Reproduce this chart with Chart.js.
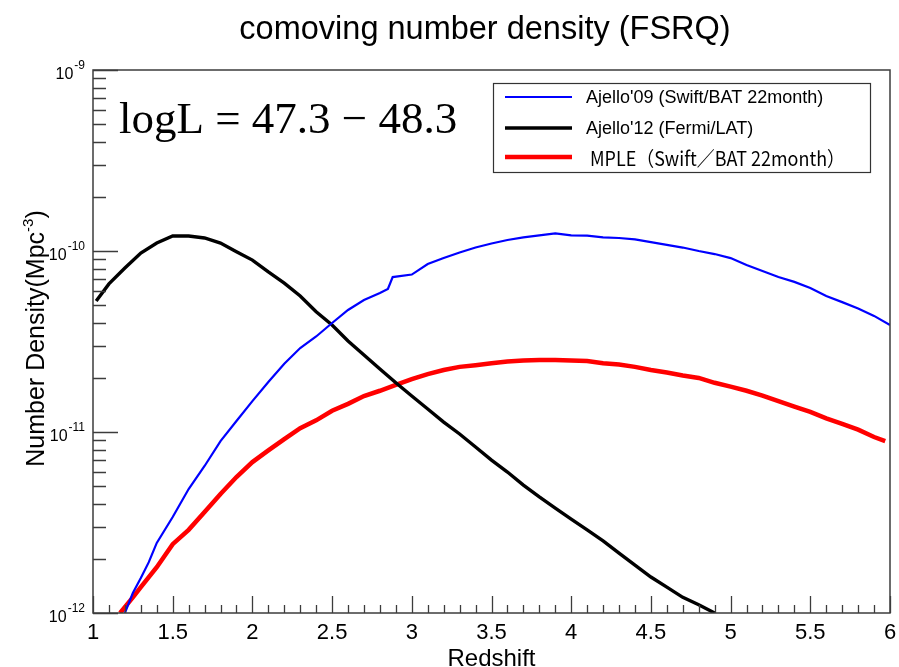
<!DOCTYPE html>
<html>
<head>
<meta charset="utf-8">
<script src="https://cdn.jsdelivr.net/npm/chart.js@4/dist/chart.umd.min.js"></script>
<style>
html, body { margin: 0; padding: 0; background: #fff; }
#chart { display: block; }
</style>
</head>
<body>
<canvas id="chart" width="899" height="667"></canvas>
<script>
// text
var titleText = 'comoving number density (FSRQ)';
var xTitle = 'Redshift';
var yTitle = 'Number Density(Mpc';
var yTitleSup = '-3';
var lumText = 'logL = 47.3 \u2212 48.3';

// axis ticks
var xMajor = [1, 1.5, 2, 2.5, 3, 3.5, 4, 4.5, 5, 5.5, 6];
var xLabels = ['1', '1.5', '2', '2.5', '3', '3.5', '4', '4.5', '5', '5.5', '6'];
var yDecades = [1e-12, 1e-11, 1e-10, 1e-9];
var yExponents = ['-12', '-11', '-10', '-9'];

// Ajello'09 (Swift/BAT 22month)
var zAjello09 = [1.2, 1.25, 1.3, 1.35, 1.4, 1.5, 1.6, 1.7, 1.8, 1.9, 2.0, 2.1, 2.2, 2.3, 2.4, 2.5, 2.6, 2.7, 2.8, 2.85, 2.88, 3.0,
    3.1, 3.2, 3.3, 3.4, 3.5, 3.6, 3.7, 3.8, 3.9, 4.0, 4.1, 4.2, 4.3, 4.4, 4.5, 4.6, 4.7, 4.8, 4.9, 5.0,
    5.1, 5.2, 5.3, 5.4, 5.5, 5.6, 5.7, 5.8, 5.9, 6.0];
var nAjello09 = [1.0e-12, 1.29e-12, 1.56e-12, 1.91e-12, 2.44e-12, 3.39e-12, 4.84e-12, 6.49e-12, 8.91e-12, 1.15e-11,
    1.48e-11, 1.89e-11, 2.38e-11, 2.91e-11, 3.37e-11, 4.00e-11, 4.72e-11, 5.36e-11, 5.86e-11, 6.17e-11, 7.18e-11, 7.41e-11,
    8.47e-11, 9.14e-11, 9.82e-11, 1.045e-10, 1.10e-10, 1.15e-10, 1.19e-10, 1.22e-10, 1.25e-10, 1.22e-10,
    1.215e-10, 1.19e-10, 1.18e-10, 1.16e-10, 1.12e-10, 1.08e-10, 1.045e-10, 1.00e-10, 9.62e-11, 9.14e-11,
    8.37e-11, 7.76e-11, 7.18e-11, 6.75e-11, 6.25e-11, 5.64e-11, 5.22e-11, 4.81e-11, 4.38e-11, 3.90e-11];

// Ajello'12 (Fermi/LAT)
var zAjello12 = [1.02, 1.1, 1.2, 1.3, 1.4, 1.5, 1.6, 1.7, 1.8, 1.9, 2.0, 2.1, 2.2, 2.3, 2.4, 2.5, 2.6, 2.7, 2.8, 2.9, 3.0,
    3.1, 3.2, 3.3, 3.4, 3.5, 3.6, 3.7, 3.8, 3.9, 4.0, 4.1, 4.2, 4.3, 4.4, 4.5, 4.6, 4.7, 4.8, 4.9];
var nAjello12 = [5.30e-11, 6.58e-11, 8.05e-11, 9.75e-11, 1.107e-10, 1.21e-10, 1.21e-10, 1.18e-10, 1.107e-10, 9.91e-11,
    8.91e-11, 7.66e-11, 6.65e-11, 5.64e-11, 4.62e-11, 3.90e-11, 3.18e-11, 2.66e-11, 2.23e-11, 1.87e-11, 1.58e-11,
    1.34e-11, 1.135e-11, 9.75e-12, 8.26e-12, 7.00e-12, 6.01e-12, 5.09e-12, 4.38e-12, 3.80e-12, 3.30e-12,
    2.88e-12, 2.50e-12, 2.14e-12, 1.84e-12, 1.58e-12, 1.39e-12, 1.22e-12, 1.11e-12, 1.0e-12];

// MPLE (Swift/BAT 22month)
var zMple = [1.17, 1.25, 1.3, 1.4, 1.5, 1.6, 1.7, 1.8, 1.9, 2.0, 2.1, 2.2, 2.3, 2.4, 2.5, 2.6, 2.7, 2.8, 2.9, 3.0,
    3.1, 3.2, 3.3, 3.4, 3.5, 3.6, 3.7, 3.8, 3.9, 4.0, 4.1, 4.2, 4.3, 4.4, 4.5, 4.6, 4.7, 4.8, 4.9, 5.0,
    5.1, 5.2, 5.3, 5.4, 5.5, 5.6, 5.7, 5.8, 5.9, 5.97];
var nMple = [1.0e-12, 1.22e-12, 1.39e-12, 1.79e-12, 2.40e-12, 2.88e-12, 3.61e-12, 4.54e-12, 5.64e-12, 6.82e-12,
    7.91e-12, 9.14e-12, 1.05e-11, 1.16e-11, 1.31e-11, 1.43e-11, 1.58e-11, 1.69e-11, 1.82e-11, 1.96e-11,
    2.09e-11, 2.20e-11, 2.29e-11, 2.34e-11, 2.40e-11, 2.45e-11, 2.48e-11, 2.50e-11, 2.50e-11, 2.48e-11,
    2.47e-11, 2.40e-11, 2.36e-11, 2.29e-11, 2.20e-11, 2.13e-11, 2.05e-11, 1.99e-11, 1.87e-11, 1.78e-11,
    1.69e-11, 1.59e-11, 1.48e-11, 1.38e-11, 1.29e-11, 1.19e-11, 1.11e-11, 1.03e-11, 9.38e-12, 8.91e-12];

var seriesLabels = ["Ajello'09 (Swift/BAT 22month)", "Ajello'12 (Fermi/LAT)", 'MPLE\uff08Swift\uff0fBAT 22month\uff09'];
var seriesColors = ['#0000ff', '#000000', '#ff0000'];
var seriesWidths = [2.2, 3.4, 4.5];

function toPoints(zs, ns) {
    var pts = [];
    for (var i = 0; i < zs.length; i++) {
        pts.push({x: zs[i], y: ns[i]});
    }
    return pts;
}

// ROOT-like frame, ticks, labels, titles and legend
var rootStyle = {
    id: 'rootStyle',
    afterDraw: function (chart) {
        var ctx = chart.ctx;
        var xs = chart.scales.x;
        var ys = chart.scales.y;
        var a = chart.chartArea;
        ctx.save();

        ctx.strokeStyle = '#3c3c3c';
        ctx.lineWidth = 1.5;
        ctx.strokeRect(a.left, a.top, a.right - a.left, a.bottom - a.top);

        // x ticks (pointing up into the frame)
        ctx.lineWidth = 1.3;
        ctx.beginPath();
        for (var t = 10; t <= 60; t++) {
            var px = Math.round(xs.getPixelForValue(t / 10)) + 0.5;
            var len = (t % 5 === 0) ? 17 : 8;
            ctx.moveTo(px, a.bottom);
            ctx.lineTo(px, a.bottom - len);
        }
        // y ticks (pointing right into the frame)
        for (var d = 0; d < yDecades.length; d++) {
            for (var m = 1; m <= 9; m++) {
                var v = yDecades[d] * m;
                if (v > ys.max * 1.0001) break;
                var py = Math.round(ys.getPixelForValue(v)) + 0.5;
                var l = (m === 1) ? 25 : 13;
                ctx.moveTo(a.left, py);
                ctx.lineTo(a.left + l, py);
            }
        }
        ctx.stroke();

        // x tick labels
        ctx.fillStyle = '#000';
        ctx.font = '22px "Liberation Sans", Arial, sans-serif';
        ctx.textAlign = 'center';
        ctx.textBaseline = 'middle';
        for (var i = 0; i < xMajor.length; i++) {
            ctx.fillText(xLabels[i], xs.getPixelForValue(xMajor[i]), a.bottom + 20);
        }

        // y tick labels: 10 with exponent
        for (var j = 0; j < yDecades.length; j++) {
            var yy = ys.getPixelForValue(yDecades[j]);
            ctx.font = '12px "Liberation Sans", Arial, sans-serif';
            var ew = ctx.measureText(yExponents[j]).width;
            ctx.textAlign = 'right';
            ctx.textBaseline = 'alphabetic';
            ctx.fillText(yExponents[j], a.left - 8, yy - 1);
            ctx.font = '16px "Liberation Sans", Arial, sans-serif';
            ctx.fillText('10', a.left - 9 - ew, yy + 9);
        }

        // x title
        ctx.font = '24px "Liberation Sans", Arial, sans-serif';
        ctx.textAlign = 'center';
        ctx.textBaseline = 'alphabetic';
        ctx.fillText(xTitle, (a.left + a.right) / 2, 666);

        // y title, rotated, with superscript
        ctx.save();
        ctx.translate(44, (a.top + a.bottom) / 2 - 3);
        ctx.rotate(-Math.PI / 2);
        ctx.font = '25px "Liberation Sans", Arial, sans-serif';
        var w1 = ctx.measureText(yTitle).width;
        var w3 = ctx.measureText(')').width;
        ctx.font = '15px "Liberation Sans", Arial, sans-serif';
        var w2 = ctx.measureText(yTitleSup).width;
        var x0 = -(w1 + w2 + w3) / 2;
        ctx.textAlign = 'left';
        ctx.font = '25px "Liberation Sans", Arial, sans-serif';
        ctx.fillText(yTitle, x0, 0);
        ctx.font = '15px "Liberation Sans", Arial, sans-serif';
        ctx.fillText(yTitleSup, x0 + w1, -11);
        ctx.font = '25px "Liberation Sans", Arial, sans-serif';
        ctx.fillText(')', x0 + w1 + w2, 0);
        ctx.restore();

        // main title
        ctx.font = '32.5px "Liberation Sans", Arial, sans-serif';
        ctx.textAlign = 'center';
        ctx.textBaseline = 'middle';
        ctx.fillText(titleText, 485, 30);

        // luminosity range text
        ctx.font = '45px "Liberation Serif", "DejaVu Serif", serif';
        ctx.textAlign = 'left';
        ctx.textBaseline = 'alphabetic';
        ctx.fillText(lumText, 119, 133);

        // legend box
        ctx.fillStyle = '#fff';
        ctx.fillRect(493, 83, 378, 90);
        ctx.strokeStyle = '#333';
        ctx.lineWidth = 1.2;
        ctx.strokeRect(493.5, 83.5, 377, 89);
        var rows = [97, 128, 157];
        for (var k = 0; k < seriesLabels.length; k++) {
            ctx.strokeStyle = seriesColors[k];
            ctx.lineWidth = seriesWidths[k];
            ctx.beginPath();
            ctx.moveTo(505, rows[k]);
            ctx.lineTo(572, rows[k]);
            ctx.stroke();
            ctx.fillStyle = '#000';
            ctx.textAlign = 'left';
            ctx.textBaseline = 'middle';
            if (k === 2) {
                ctx.font = '20px "Noto Sans CJK JP", "Liberation Sans", sans-serif';
                ctx.fillText(seriesLabels[k], 590, rows[k] + 1, 255);
            } else {
                ctx.font = '18px "Liberation Sans", Arial, sans-serif';
                ctx.fillText(seriesLabels[k], 586, rows[k] + 1, 246);
            }
        }
        ctx.restore();
    }
};

var ctx = document.getElementById('chart').getContext('2d');
var chart = new Chart(ctx, {
    type: 'line',
    data: {
        datasets: [
            {label: seriesLabels[0], data: toPoints(zAjello09, nAjello09), borderColor: seriesColors[0], borderWidth: seriesWidths[0]},
            {label: seriesLabels[1], data: toPoints(zAjello12, nAjello12), borderColor: seriesColors[1], borderWidth: seriesWidths[1]},
            {label: seriesLabels[2], data: toPoints(zMple, nMple), borderColor: seriesColors[2], borderWidth: seriesWidths[2]}
        ]
    },
    options: {
        responsive: false,
        animation: false,
        layout: {padding: {left: 93, top: 70, right: 9, bottom: 54}},
        elements: {point: {radius: 0}, line: {tension: 0, fill: false}},
        plugins: {legend: {display: false}, tooltip: {enabled: false}, title: {display: false}},
        scales: {
            x: {type: 'linear', min: 1, max: 6, display: false},
            y: {type: 'logarithmic', min: 1e-12, max: 1e-9, display: false}
        }
    },
    plugins: [rootStyle]
});
</script>
</body>
</html>
